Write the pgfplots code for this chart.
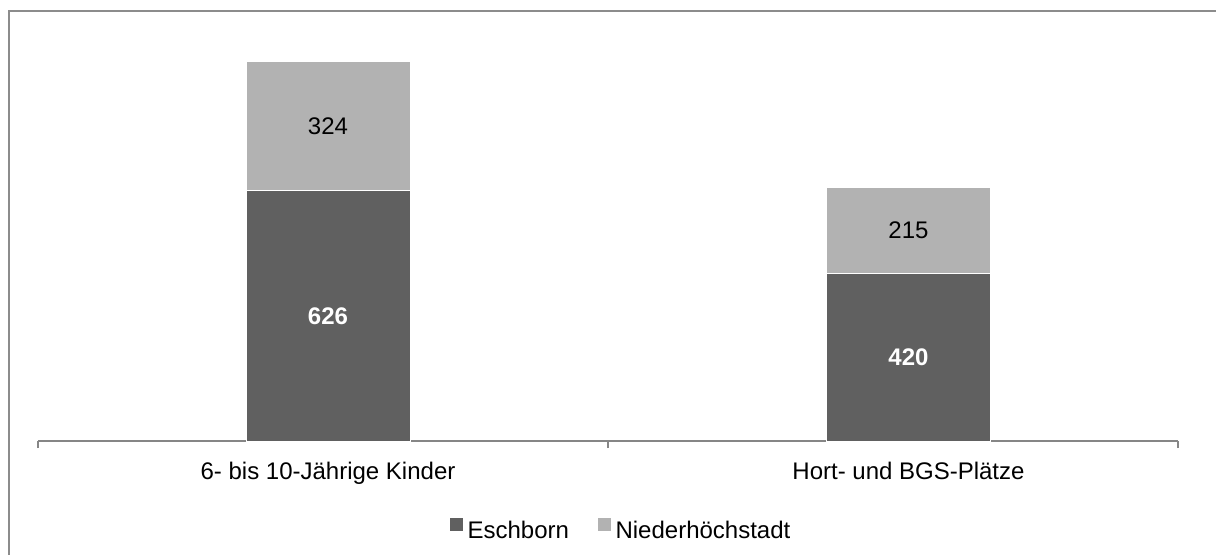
\documentclass[border=0pt]{standalone}
\usepackage{pgfplots}
\pgfplotsset{compat=1.18}
\usepackage{fontspec}
\setmainfont{Liberation Sans}
\definecolor{darkbar}{HTML}{606060}
\definecolor{lightbar}{HTML}{B2B2B2}
\definecolor{axisgray}{HTML}{868686}
\definecolor{framegray}{HTML}{8C8C8C}
\newcommand{\chartfont}{\fontsize{12}{14}\selectfont}
\begin{document}
\begin{tikzpicture}
\useasboundingbox (0,0) rectangle (608pt,277pt);
% outer frame (left and top edges)
\begin{scope}
\clip (0,0) rectangle (608pt,277pt);
\draw[framegray, line width=0.9pt] (4.6pt,-5pt) -- (4.6pt,271.6pt) -- (615pt,271.6pt);
\end{scope}
\begin{axis}[
  at={(19pt,56.5pt)}, anchor=south west,
  scale only axis,
  width=570pt, height=200pt,
  ybar stacked,
  bar width=82pt,
  ymin=0, ymax=1000,
  xmin=-0.4996, xmax=1.4643,
  axis y line=none,
  axis x line*=bottom,
  x axis line style={axisgray, line width=0.8pt},
  xtick={0,1},
  xticklabels={6- bis 10-Jährige Kinder, Hort- und BGS-Plätze},
  major tick length=0pt,
  xticklabel style={font=\chartfont, text=black, yshift=-7pt},
  extra x ticks={-0.4996,0.4823,1.4643},
  extra x tick labels={},
  extra x tick style={major tick length=3.5pt, tick align=outside,
    tick style={axisgray, line width=0.8pt}},
  /pgf/number format/assume math mode=true,
  nodes near coords,
  point meta=rawy,
  every node near coord/.append style={anchor=center, font=\chartfont},
  legend columns=2,
  legend style={at={(0.512,-0.225)}, anchor=center, draw=none, font=\chartfont,
    /tikz/every even column/.append style={column sep=12pt},
    nodes={inner xsep=2pt}},
  legend image code/.code={\fill[#1] (0pt,0pt) rectangle (7pt,7pt);},
]
\addplot[fill=darkbar, draw=white, line width=0.3pt,
  nodes near coords style={text=white, font=\chartfont\bfseries}]
  coordinates {(0,626) (1,420)};
\addlegendentry{Eschborn}
\addplot[fill=lightbar, draw=white, line width=0.3pt,
  nodes near coords style={text=black}]
  coordinates {(0,324) (1,215)};
\addlegendentry{Niederhöchstadt}
\end{axis}
\end{tikzpicture}
\end{document}
